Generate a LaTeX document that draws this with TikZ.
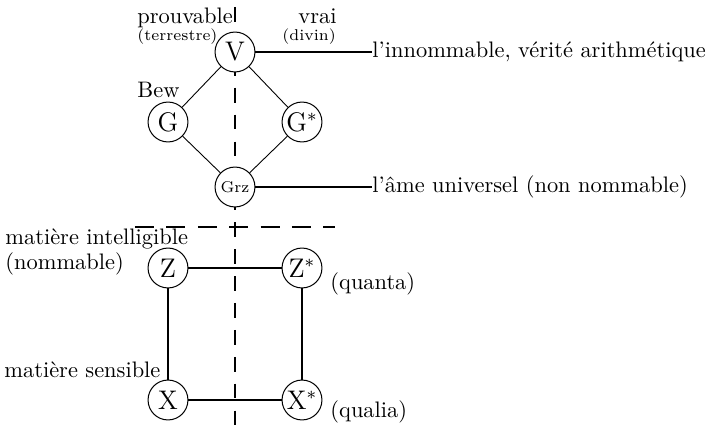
\documentclass[tikz,border=0pt]{standalone}
\begin{document}
\begin{tikzpicture}[x=0.446pt,y=-0.446pt,
  nd/.style={circle,draw,fill=white,minimum size=17.8pt,inner sep=0pt,line width=0.45pt,font=\large},
  lbl/.style={anchor=base west,inner sep=0pt},
  slbl/.style={anchor=base west,inner sep=0pt,font=\scriptsize},
  thinl/.style={line width=0.4pt},
  medl/.style={line width=0.9pt},
  thickl/.style={line width=1.2pt},
  vdash/.style={line width=0.9pt,dash pattern=on 6.6pt off 5.4pt},
  hdash/.style={line width=1pt,dash pattern=on 8.5pt off 5.5pt}]
\useasboundingbox (0,0) rectangle (712,427);
% dashed separators
\coordinate (vtop) at (235,7);
\coordinate (vbot) at (235,427);
\coordinate (hl) at (135,227);
\coordinate (hr) at (335,227);
\draw[vdash] (vtop) -- (vbot);
\draw[hdash] (hl) -- (hr);
% upper nodes
\node[nd] (V) at (235,52) {V};
\node[nd] (G) at (168,122) {G};
\node[nd] (Gs) at (302,122) {G$^*$};
\node[nd,font=\scriptsize] (Grz) at (235,187) {Grz};
% lower nodes
\node[nd] (Z) at (168,268) {Z};
\node[nd] (Zs) at (302,268) {Z$^*$};
\node[nd] (X) at (168,400) {X};
\node[nd] (Xs) at (302,400) {X$^*$};
% text labels
\node[lbl] (prouv) at (137,23) {prouvable};
\node[lbl] (vrai) at (298,23) {vrai};
\node[slbl] (terr) at (137,40) {(terrestre)};
\node[slbl] (divin) at (282,40) {(divin)};
\node[lbl] (bew) at (137,98) {Bew};
\node[lbl,anchor=west] (innom) at (372,52) {l'innommable, vérité arithmétique};
\node[lbl,anchor=west] (ame) at (372,187) {l'âme universel (non nommable)};
\node[lbl] (mint) at (5,245) {matière intelligible};
\node[lbl] (nomm) at (5,270) {(nommable)};
\node[lbl] (quanta) at (330,290) {(quanta)};
\node[lbl] (msens) at (4,378) {matière sensible};
\node[lbl] (qualia) at (330,418) {(qualia)};
% connectors
\draw[thinl] (V) -- (G);
\draw[thinl] (V) -- (Gs);
\draw[thinl] (G) -- (Grz);
\draw[thinl] (Gs) -- (Grz);
\draw[medl] (V) -- (innom);
\draw[thickl] (Grz) -- (ame);
\draw[medl] (Z) -- (Zs);
\draw[medl] (X) -- (Xs);
\draw[medl] (Z) -- (X);
\draw[thickl] (Zs) -- (Xs);
\end{tikzpicture}
\end{document}
